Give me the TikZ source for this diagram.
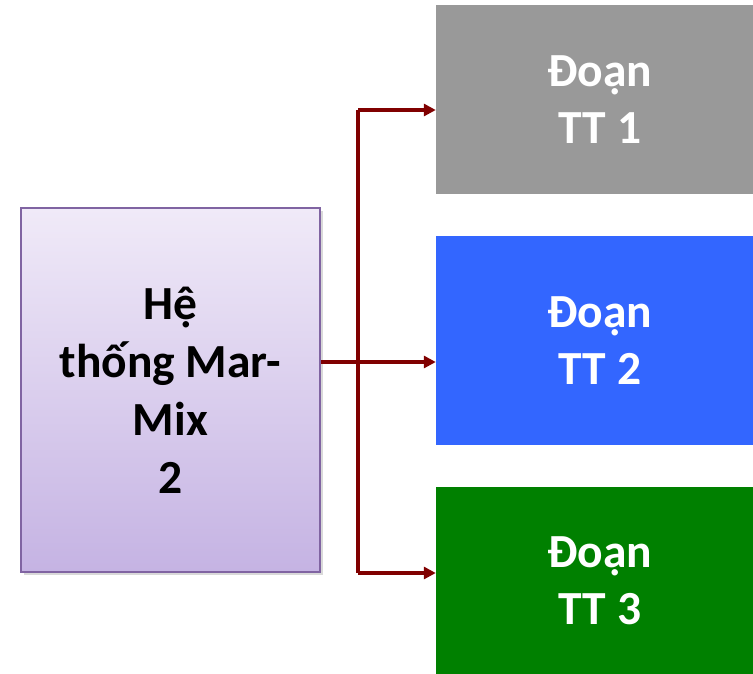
\documentclass[tikz,border=0pt]{standalone}
\usepackage{fontspec}
\setmainfont{Carlito}
\usetikzlibrary{arrows.meta,shadows}
\definecolor{arrred}{HTML}{800000}
\definecolor{sysborder}{HTML}{8064A2}
\definecolor{systop}{HTML}{F0EAF8}
\definecolor{sysbot}{HTML}{C5B3E3}
\definecolor{boxgray}{HTML}{999999}
\definecolor{boxblue}{HTML}{3366FF}
\definecolor{boxgreen}{HTML}{008000}
\tikzset{
  sysbox/.style={rectangle, draw=sysborder, line width=2pt, top color=systop, bottom color=sysbot,
    minimum width=299pt, minimum height=364pt, inner sep=0pt, align=center,
    font=\fontsize{47.5}{58}\selectfont\bfseries, text=black,
    drop shadow={shadow xshift=3pt, shadow yshift=-3pt, opacity=0.3}},
  segbox/.style={rectangle, draw=none, minimum width=328pt, inner sep=0pt, align=center,
    font=\fontsize{47.5}{57}\selectfont\bfseries, text=white},
  arr/.style={draw=arrred, line width=4pt, line join=miter, -{Triangle[length=12pt,width=12pt]}},
  seg/.style={draw=arrred, line width=4pt, line join=miter}
}
\begin{document}
\begin{tikzpicture}[x=1pt,y=-1pt]
\useasboundingbox (0,0) rectangle (753,673);
\node[sysbox] (sys) at (170.5,390) {Hệ\\thống Mar-\\Mix\\2};
\node[segbox, fill=boxgray, minimum height=189pt] (b1) at (600,99.5) {Đoạn\\TT 1};
\node[segbox, fill=boxblue, minimum height=209pt] (b2) at (600,340.5) {Đoạn\\TT 2};
\node[segbox, fill=boxgreen, minimum height=188pt] (b3) at (600,581) {Đoạn\\TT 3};
\coordinate (j) at (358,362);
\coordinate (t) at (358,110);
\coordinate (bt) at (358,573);
\draw[seg] (t) -- (bt);
\draw[arr] (sys.east |- j) -- (b2.west |- j);
\draw[arr] (t) -- (b1.west |- t);
\draw[arr] (bt) -- (b3.west |- bt);
\end{tikzpicture}
\end{document}
